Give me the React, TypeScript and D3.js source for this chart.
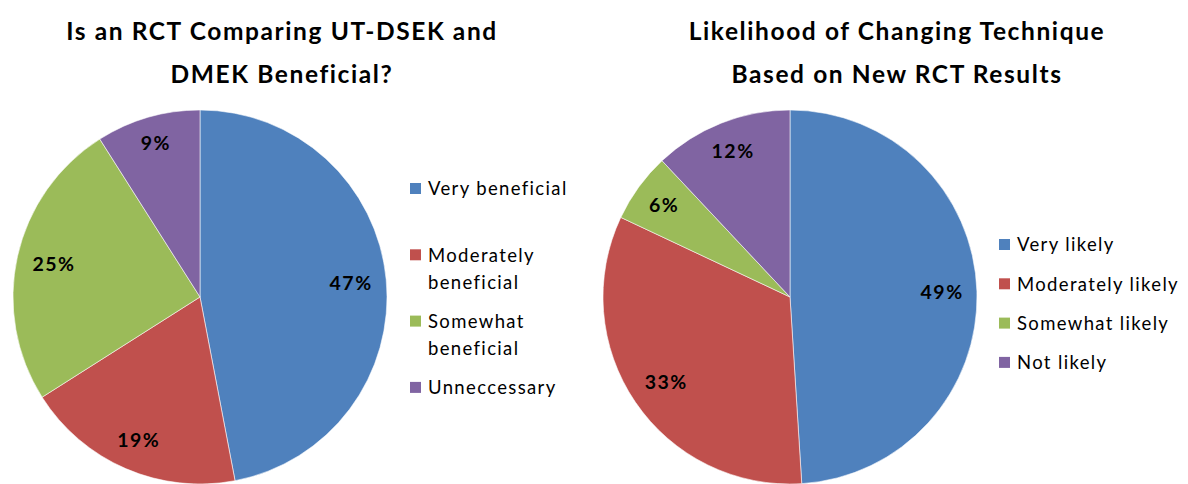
import React from "react";
import * as d3 from "d3";

const leftTitle = ["Is an RCT Comparing UT-DSEK and", "DMEK Beneficial?"];
const leftCategories = ["Very beneficial", "Moderately beneficial", "Somewhat beneficial", "Unneccessary"];
const leftValues = [47, 19, 25, 9];

const rightTitle = ["Likelihood of Changing Technique", "Based on New RCT Results"];
const rightCategories = ["Very likely", "Moderately likely", "Somewhat likely", "Not likely"];
const rightValues = [49, 33, 6, 12];

const colors = ["#4F81BD", "#C0504D", "#9BBB59", "#8064A2"];
const FONT = "Lato, 'Open Sans', sans-serif";

type PieProps = {
  title: string[];
  categories: string[];
  values: number[];
  cx: number;
  cy: number;
  r: number;
  titleX: number;
  legendX: number;
  legendY: number;
  legendSlot: number;
  wrapChars: number;
};

function wrap(label: string, maxChars: number): string[] {
  if (label.length <= maxChars) return [label];
  const i = label.indexOf(" ");
  if (i < 0) return [label];
  return [label.slice(0, i), label.slice(i + 1)];
}

const noLig = { fontVariantLigatures: "none" } as React.CSSProperties;

// place a label on the slice's mid-angle ray so that its outer box corner sits at distance D
function labelPos(angle: number, w: number, h: number, D: number): [number, number] {
  const ux = Math.sin(angle);
  const uy = -Math.cos(angle);
  const a = (ux >= 0 ? 1 : -1) * (w / 2);
  const b = (uy >= 0 ? 1 : -1) * (h / 2);
  const k = ux * a + uy * b;
  const t = -k + Math.sqrt(k * k - (a * a + b * b - D * D));
  return [t * ux, t * uy];
}

function PieChart(p: PieProps) {
  const pie = d3.pie<number>().sort(null).value((d) => d);
  const arcs = pie(p.values);
  const arc = d3.arc<d3.PieArcDatum<number>>().innerRadius(0).outerRadius(p.r);
  const total = d3.sum(p.values);
  return (
    <g>
      {p.title.map((t, i) => (
        <text key={i} x={p.titleX} y={40 + i * 43} textAnchor="middle" fontFamily={FONT} fontWeight="bold" fontSize={24.5} letterSpacing={1.6} style={noLig} fill="#000">
          {t}
        </text>
      ))}
      <g transform={`translate(${p.cx},${p.cy})`}>
        {arcs.map((a, i) => (
          <path key={i} d={arc(a) || ""} fill={colors[i]} stroke="#ffffff" strokeWidth={0.8} strokeOpacity={0.7} />
        ))}
        {arcs.map((a, i) => {
          const txt = Math.round((a.data / total) * 100) + "%";
          const w = txt.length * 14 + 2;
          const [x, y] = labelPos((a.startAngle + a.endAngle) / 2, w, 18, p.r * 0.93);
          return (
            <text key={i} x={x + 0.75} y={y} dy="0.36em" textAnchor="middle" fontFamily={FONT} fontWeight="bold" fontSize={19.5} letterSpacing={1.5} fill="#000">
              {txt}
            </text>
          );
        })}
      </g>
      {p.categories.map((c, i) => {
        const y = p.legendY + i * p.legendSlot;
        const lines = wrap(c, p.wrapChars);
        return (
          <g key={i}>
            <rect x={p.legendX} y={y - 6} width={11} height={11} fill={colors[i]} />
            {lines.map((l, j) => (
              <text key={j} x={p.legendX + 18} y={y + j * 27} dy="0.35em" fontFamily={FONT} fontSize={18.5} letterSpacing={1.35} style={noLig} fill="#000">
                {l}
              </text>
            ))}
          </g>
        );
      })}
    </g>
  );
}

export default function App() {
  return (
    <svg width={1188} height={484} style={{ position: "absolute", left: 0, top: 0, background: "#fff" }}>
      <rect width={1188} height={484} fill="#fff" />
      <PieChart title={leftTitle} categories={leftCategories} values={leftValues} cx={200} cy={297} r={187} titleX={282} legendX={410} legendY={189} legendSlot={66.3} wrapChars={16} />
      <PieChart title={rightTitle} categories={rightCategories} values={rightValues} cx={790} cy={297} r={187} titleX={897} legendX={999} legendY={245} legendSlot={39.3} wrapChars={20} />
    </svg>
  );
}
